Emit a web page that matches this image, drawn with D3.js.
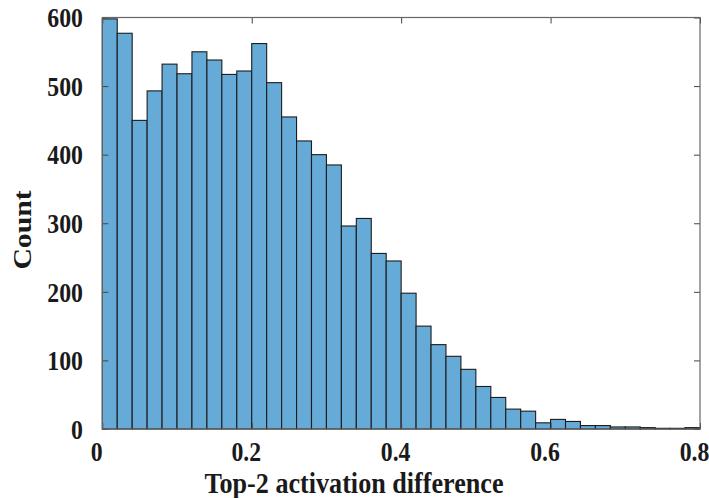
<!DOCTYPE html>
<html>
<head>
<meta charset="utf-8">
<script src="https://cdn.jsdelivr.net/npm/d3@7/dist/d3.min.js"></script>
<style>
  html, body { margin: 0; padding: 0; background: #fff; }
  svg { display: block; }
  text { font-family: "Liberation Serif", "Times New Roman", serif; font-weight: bold; fill: #1a1a1a; }
</style>
</head>
<body>
<svg id="chart" width="709" height="498"></svg>
<script>
// Histogram counts, one per bin of width 0.02 starting at 0
const binWidth = 0.02;
const counts = [598, 577, 450, 493, 532, 518, 550, 538, 517, 522,
                562, 505, 455, 420, 400, 385, 296, 307, 256, 245,
                198, 150, 123, 106, 87, 62, 46, 29, 26, 9,
                14, 11, 5, 5, 3, 3, 2, 1, 1, 2];
const xTicks = [0, 0.2, 0.4, 0.6, 0.8];
const xTickLabels = ["0", "0.2", "0.4", "0.6", "0.8"];
const yTicks = [0, 100, 200, 300, 400, 500, 600];
const yTickLabels = ["0", "100", "200", "300", "400", "500", "600"];
const xTitle = "Top-2 activation difference";
const yTitle = "Count";

const svg = d3.select("#chart");
const plot = { left: 102.3, right: 700, top: 17.5, bottom: 429 };
const squeeze = 0.88; // narrow letterforms

const x = d3.scaleLinear().domain([0, 0.8]).range([plot.left, plot.right]);
const y = d3.scaleLinear().domain([0, 600]).range([plot.bottom, plot.top]);

const bins = counts.map((c, i) => ({ x0: i * binWidth, x1: (i + 1) * binWidth, count: c }));

// bars
svg.append("g").selectAll("rect").data(bins).join("rect")
  .attr("x", d => x(d.x0))
  .attr("width", d => x(d.x1) - x(d.x0))
  .attr("y", d => y(d.count))
  .attr("height", d => y(0) - y(d.count))
  .attr("fill", "#66aad7")
  .attr("stroke", "#1c1c1c")
  .attr("stroke-width", 1.1);

const tickLen = 6;
const axisColor = "#444";

// bottom axis (inward ticks)
const xAxisBottom = d3.axisBottom(x).tickValues(xTicks)
  .tickFormat((d, i) => xTickLabels[i]).tickSizeInner(-tickLen).tickSizeOuter(0).tickPadding(13);
const gxb = svg.append("g").attr("transform", `translate(0,${plot.bottom})`).call(xAxisBottom);
gxb.select(".domain").remove();
gxb.selectAll(".tick line").attr("stroke", axisColor);
gxb.selectAll(".tick text")
  .attr("font-size", 27).attr("font-family", null)
  .attr("transform", `translate(-6,0) scale(${squeeze},1)`);

// top axis ticks
const xAxisTop = d3.axisTop(x).tickValues(xTicks).tickFormat("").tickSizeInner(-tickLen).tickSizeOuter(0);
const gxt = svg.append("g").attr("transform", `translate(0,${plot.top})`).call(xAxisTop);
gxt.select(".domain").remove();
gxt.selectAll(".tick line").attr("stroke", axisColor);

// left axis
const yAxisLeft = d3.axisLeft(y).tickValues(yTicks)
  .tickFormat((d, i) => yTickLabels[i]).tickSizeInner(-tickLen).tickSizeOuter(0).tickPadding(22);
const gyl = svg.append("g").attr("transform", `translate(${plot.left},0)`).call(yAxisLeft);
gyl.select(".domain").remove();
gyl.selectAll(".tick line").attr("stroke", axisColor);
gyl.selectAll(".tick text")
  .attr("font-size", 27).attr("font-family", null)
  .attr("dy", "0.34em")
  .attr("transform", `scale(${squeeze},1)`);

// right axis ticks
const yAxisRight = d3.axisRight(y).tickValues(yTicks).tickFormat("").tickSizeInner(-tickLen).tickSizeOuter(0);
const gyr = svg.append("g").attr("transform", `translate(${plot.right},0)`).call(yAxisRight);
gyr.select(".domain").remove();
gyr.selectAll(".tick line").attr("stroke", axisColor);

// frame
svg.append("rect")
  .attr("x", plot.left).attr("y", plot.top)
  .attr("width", plot.right - plot.left).attr("height", plot.bottom - plot.top)
  .attr("fill", "none").attr("stroke", "#666").attr("stroke-width", 1.2);

// axis titles
svg.append("text")
  .attr("transform", `translate(354,493) scale(${squeeze},1)`)
  .attr("text-anchor", "middle")
  .attr("font-size", 29.7)
  .text(xTitle);

svg.append("text")
  .attr("transform", `translate(31,230) rotate(-90) scale(1,${squeeze})`)
  .attr("text-anchor", "middle")
  .attr("font-size", 29.7)
  .text(yTitle);
</script>
</body>
</html>
